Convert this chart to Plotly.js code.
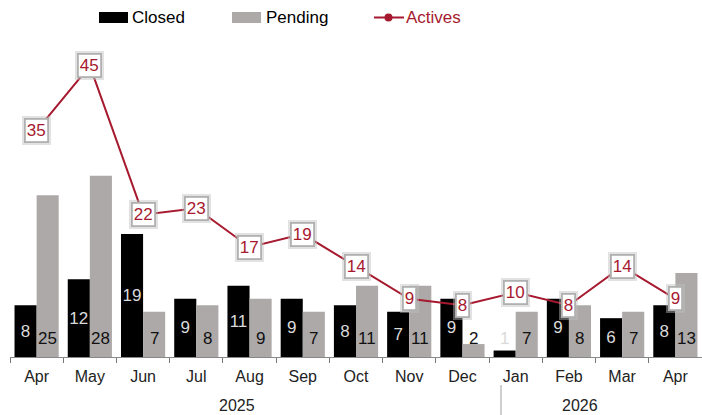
<!DOCTYPE html>
<html><head><meta charset="utf-8">
<script src="https://cdn.plot.ly/plotly-3.0.1.min.js"></script>
<style>html,body{margin:0;padding:0;background:#fff}#chart{width:702px;height:415px}</style>
</head><body><div id="chart"></div>
<script>
// ---- data ----
const months  = ['Apr','May','Jun','Jul','Aug','Sep','Oct','Nov','Dec','Jan','Feb','Mar','Apr'];
const years   = ['2025','2025','2025','2025','2025','2025','2025','2025','2025','2026','2026','2026','2026'];
const closed  = [8, 12, 19, 9, 11, 9, 8, 7, 9, 1, 9, 6, 8];
const pending = [25, 28, 7, 8, 9, 7, 11, 11, 2, 7, 8, 7, 13];
const actives = [35, 45, 22, 23, 17, 19, 14, 9, 8, 10, 8, 14, 9];
const seriesNames = ['Closed', 'Pending', 'Actives'];
const yearLabels = ['2025', '2026'];

// ---- styling ----
const W = 702, H = 415;
const M = {l: 10, r: 0, t: 40, b: 58};
const PW = W - M.l - M.r, PH = H - M.t - M.b;
const px = p => (p - M.l) / PW;          // pixel x -> paper
const py = p => (H - M.b - p) / PH;      // pixel y -> paper
const NARROW = '"Liberation Sans Narrow", "Arial Narrow", "Liberation Sans", Arial, sans-serif';
const SANS = '"Liberation Sans", Arial, sans-serif';
const RED = '#A6192E', GRAY = '#ADA9A8', LBL = '#DADADA';
const labelY = 2.9;
const LF = 17;

const keys = months.map((m, i) => m + '-' + years[i]);

const traces = [
  {type: 'bar', name: seriesNames[0], x: keys, y: closed, marker: {color: '#000'},
   text: closed.map(String),
   textposition: closed.map(v => v >= 3 ? 'inside' : 'none'),
   insidetextanchor: 'middle', textangle: 0, constraintext: 'none',
   textfont: {family: NARROW, size: LF, color: LBL}, hoverinfo: 'skip', showlegend: false},
  {type: 'bar', name: seriesNames[1], x: keys, y: pending, marker: {color: GRAY},
   textposition: 'none', hoverinfo: 'skip', showlegend: false},
  {type: 'scatter', mode: 'lines', name: seriesNames[2], x: keys, y: actives,
   line: {color: RED, width: 2}, hoverinfo: 'skip', showlegend: false}
];

const annotations = [];
// pending labels near base
pending.forEach((v, i) => annotations.push({
  x: keys[i], y: labelY, xref: 'x', yref: 'y', text: String(v), showarrow: false,
  xshift: 11, yanchor: 'middle', font: {family: NARROW, size: LF, color: '#111'}
}));
// small closed labels that don't fit
closed.forEach((v, i) => { if (v < 3) annotations.push({
  x: keys[i], y: labelY, xref: 'x', yref: 'y', text: String(v), showarrow: false,
  xshift: -11, yanchor: 'middle', font: {family: NARROW, size: LF, color: LBL}
}); });
// actives labels in boxes (glow + box)
actives.forEach((v, i) => {
  annotations.push({x: keys[i], y: v, xref: 'x', yref: 'y', text: String(v), showarrow: false,
    yanchor: 'middle', font: {family: NARROW, size: LF, color: 'rgba(0,0,0,0)'}, bgcolor: 'rgba(0,0,0,0)',
    bordercolor: 'rgba(190,190,190,0.45)', borderwidth: 4, borderpad: -1});
  annotations.push({x: keys[i], y: v, xref: 'x', yref: 'y', text: String(v), showarrow: false,
    yanchor: 'middle', font: {family: NARROW, size: LF, color: RED}, bgcolor: '#fff',
    bordercolor: '#B0B0B0', borderwidth: 1.8, borderpad: -1});
});
// year labels
annotations.push({x: px(237), y: py(405), xref: 'paper', yref: 'paper', text: yearLabels[0],
  xanchor: 'center', yanchor: 'middle',
  showarrow: false, font: {family: SANS, size: 16, color: '#222'}});
annotations.push({x: px(580), y: py(405), xref: 'paper', yref: 'paper', text: yearLabels[1],
  xanchor: 'center', yanchor: 'middle',
  showarrow: false, font: {family: SANS, size: 16, color: '#222'}});
// legend texts
[[130, '#000', 0], [264, '#000', 1], [404, RED, 2]].forEach(([x, c, k]) => annotations.push({
  x: px(x), y: py(17.5), xref: 'paper', yref: 'paper', xanchor: 'left', yanchor: 'middle',
  text: seriesNames[k], showarrow: false, font: {family: NARROW, size: 17, color: c}
}));

const shapes = [
  {type: 'rect', xref: 'paper', yref: 'paper', x0: px(99), x1: px(128), y0: py(23), y1: py(12),
   fillcolor: '#000', line: {width: 0}},
  {type: 'rect', xref: 'paper', yref: 'paper', x0: px(232), x1: px(261), y0: py(23), y1: py(12),
   fillcolor: GRAY, line: {width: 0}},
  {type: 'line', xref: 'paper', yref: 'paper', x0: px(374), x1: px(404), y0: py(17.5), y1: py(17.5),
   line: {color: RED, width: 2}},
  {type: 'circle', xref: 'paper', yref: 'paper', x0: px(384.5), x1: px(392.5), y0: py(21.5), y1: py(13.5),
   fillcolor: RED, line: {width: 0}},
  {type: 'line', xref: 'paper', yref: 'paper', x0: px(501), x1: px(501), y0: py(385), y1: py(415),
   line: {color: '#BFBFBF', width: 1.5}}
];

const layout = {
  width: W, height: H, margin: M, paper_bgcolor: '#fff', plot_bgcolor: '#fff',
  barmode: 'group', bargap: 0.17, bargroupgap: 0, showlegend: false,
  xaxis: {type: 'category', tickvals: keys, ticktext: months, tickson: 'boundaries',
    ticks: 'outside', ticklen: 5, tickcolor: '#777', tickwidth: 1, ticklabelstandoff: 5,
    showline: true, linecolor: '#888', linewidth: 1, showgrid: false, zeroline: false,
    tickfont: {family: SANS, size: 16, color: '#222'}, fixedrange: true},
  yaxis: {range: [0, 49], visible: false, showgrid: false, zeroline: false, fixedrange: true},
  annotations: annotations, shapes: shapes
};
Plotly.newPlot('chart', traces, layout, {staticPlot: true, displayModeBar: false});
</script></body></html>
